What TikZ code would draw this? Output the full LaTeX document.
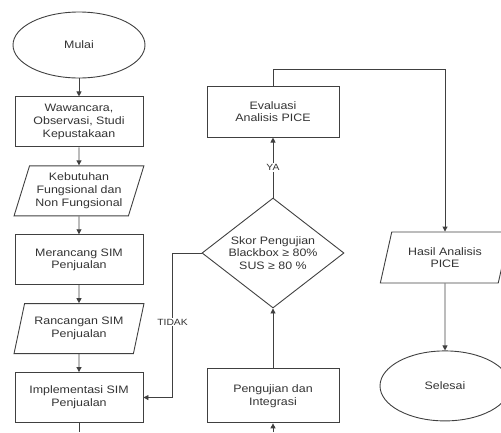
\documentclass[tikz,border=0pt]{standalone}
\usepackage{fontspec}
\setmainfont{Liberation Sans}[FakeStretch=1.15]
\usepackage{tikz}
\usetikzlibrary{shapes,arrows.meta,positioning,calc}

\begin{document}
\begin{tikzpicture}[
    x=1pt, y=1pt,
    font=\fontsize{10.8}{12.7}\selectfont,
    base/.style = {draw=black!75, line width=0.9pt, text=black!80, align=center, inner sep=0pt},
    proc/.style = {base, rectangle, minimum width=128pt, minimum height=50pt},
    io/.style = {base, trapezium, trapezium left angle=69, trapezium right angle=111, trapezium stretches=true, minimum width=130pt, minimum height=50pt},
    term/.style = {base, ellipse, minimum width=132pt, minimum height=66pt},
    decision/.style = {base, diamond, aspect=1.29, minimum width=142pt, minimum height=110pt},
    line/.style = {draw=black!75, line width=0.9pt, -{Triangle[length=5pt,width=5pt]}},
    lbl/.style = {fill=white, text=black!80, font=\fontsize{9}{10}\selectfont, inner sep=1pt}
]
    \clip (0,0) rectangle (501,-432);

    % Nodes
    \node [term] (mulai) at (79,-45) {Mulai};
    \node [proc, below=18pt of mulai] (data) {Wawancara,\\ Observasi, Studi\\ Kepustakaan};
    \node [io, below=18pt of data] (kebutuhan) {Kebutuhan\\ Fungsional dan\\ Non Fungsional};
    \node [proc, below=18pt of kebutuhan] (rancang) {Merancang SIM\\ Penjualan};
    \node [io, below=18pt of rancang] (rancangan) {Rancangan SIM\\ Penjualan};
    \node [proc, below=18pt of rancangan] (impl) {Implementasi SIM\\ Penjualan};

    \node [decision] (skor) at (273,-253) {Skor Pengujian\\ Blackbox ≥ 80\%\\ SUS ≥ 80 \%};
    \node [proc, minimum width=132pt, minimum height=51pt, above=60pt of skor] (eval) {Evaluasi\\ Analisis PICE};
    \node [proc, minimum width=132pt, minimum height=54pt, below=60pt of skor] (uji) {Pengujian dan\\ Integrasi};

    \node [io, minimum height=51pt] (hasil) at (445,-257.5) {Hasil Analisis\\ PICE};
    \node [term, minimum width=130pt, minimum height=70pt, below=67pt of hasil] (selesai) {Selesai};

    \coordinate (implEnd) at (impl.south |- 0,-432);
    \coordinate (ujiStart) at (uji.south |- 0,-432);
    \coordinate (tidakTurn) at ($(skor.west)+(-29,0)$);

    % Edges
    \path [line] (mulai) -- (data);
    \path [line] (data) -- (kebutuhan);
    \path [line] (kebutuhan) -- (rancang);
    \path [line] (rancang) -- (rancangan);
    \path [line] (rancangan) -- (impl);
    \draw [draw=black!75, line width=0.9pt] (impl) -- (implEnd);

    \path [line] (ujiStart) -- (uji);
    \path [line] (uji) -- (skor);
    \path [line] (skor) -- node[lbl] {YA} (eval);
    \path [line] (skor.west) -- (tidakTurn) |- node[lbl, pos=0.24] {TIDAK} (impl.east);
    \path [line] (eval.north) -- ++(0,16) -| (hasil.north);
    \path [line] (hasil) -- (selesai);

\end{tikzpicture}
\end{document}
